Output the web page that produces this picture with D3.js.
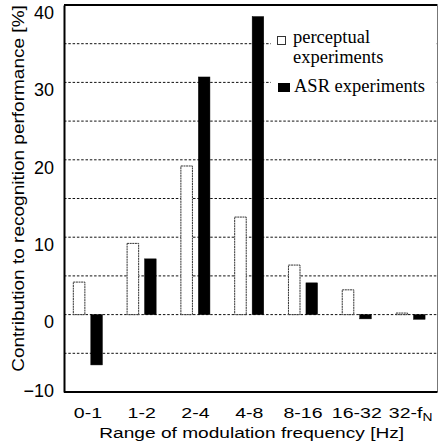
<!DOCTYPE html>
<html>
<head>
<meta charset="utf-8">
<script src="https://cdn.jsdelivr.net/npm/d3@7"></script>
<style>
  html, body { margin: 0; padding: 0; background: #fff; }
  svg { display: block; }
  .sans { font-family: "Liberation Sans", Arial, sans-serif; }
  .serif { font-family: "Liberation Serif", "Times New Roman", serif; }
</style>
</head>
<body>
<svg id="chart" width="440" height="448"></svg>
<script>
// Modulation frequency bands (Hz)
const categories = ["0-1", "1-2", "2-4", "4-8", "8-16", "16-32", "32-fN"];
// Contribution to recognition performance [%]
const perceptual = [4.2, 9.2, 19.2, 12.6, 6.4, 3.2, 0.2];
const asr = [-6.5, 7.2, 30.7, 38.5, 4.1, -0.55, -0.6];
const yTicks = [-10, 0, 10, 20, 30, 40];
const gridValues = [-5, 0, 5, 10, 15, 20, 25, 30, 35];
const seriesNames = ["perceptual", "asr"];

const svg = d3.select("#chart");
const frame = { left: 64, right: 437.5, top: 5, bottom: 392 };

const y = d3.scaleLinear().domain([-10, 40]).range([frame.bottom, frame.top]);
const x = d3.scaleBand().domain(categories).range([61, 437.5]).paddingInner(0);
const x1 = d3.scaleBand().domain(seriesNames)
  .range([x.bandwidth() * 0.229, x.bandwidth() * 0.769]).paddingInner(0.34);

// the lettering is set wide: factor that stretches a text to a given length
function stretchTo(textSel, length) {
  const natural = textSel.node().getComputedTextLength();
  return length / natural;
}

// dotted reference lines
svg.append("g").selectAll("line").data(gridValues).join("line")
  .attr("x1", frame.left).attr("x2", frame.right)
  .attr("y1", d => y(d)).attr("y2", d => y(d))
  .attr("stroke", "#111").attr("stroke-width", 1)
  .attr("stroke-dasharray", "2.5,1.8");

// legend backdrop hides the grid under the labels
svg.append("rect").attr("x", 271).attr("y", 26).attr("width", 165).attr("height", 76)
  .attr("fill", "#fff");

const rows = categories.map((c, i) => ({ c, values: [perceptual[i], asr[i]] }));
const groups = svg.append("g").selectAll("g").data(rows).join("g")
  .attr("transform", d => `translate(${x(d.c)},0)`);

groups.selectAll("rect").data(d => d.values.map((v, j) => ({ s: seriesNames[j], v })))
  .join("rect")
  .attr("x", d => x1(d.s))
  .attr("width", x1.bandwidth())
  .attr("y", d => Math.min(y(d.v), y(0)))
  .attr("height", d => Math.abs(y(d.v) - y(0)))
  .attr("fill", d => d.s === "asr" ? "#000" : "#fff")
  .attr("stroke", d => d.s === "asr" ? "#000" : "#333")
  .attr("stroke-width", d => d.s === "asr" ? 0.5 : 1)
  .attr("stroke-dasharray", d => d.s === "asr" ? null : "2,0.6");

// frame
svg.append("line").attr("x1", frame.left).attr("x2", frame.right)
  .attr("y1", frame.top).attr("y2", frame.top).attr("stroke", "#000").attr("stroke-width", 2.2);
svg.append("line").attr("x1", frame.right).attr("x2", frame.right)
  .attr("y1", frame.top).attr("y2", frame.bottom).attr("stroke", "#777").attr("stroke-width", 1);

// y axis: labels hang just below their value
const yAxis = d3.axisLeft(y).tickValues(yTicks).tickSize(0).tickPadding(10);
const gy = svg.append("g").attr("transform", `translate(${frame.left},0)`).call(yAxis);
gy.select(".domain").attr("stroke", "#000").attr("stroke-width", 2);
gy.selectAll(".tick text").attr("class", "sans").attr("font-size", 18).attr("fill", "#000")
  .attr("dy", d => d === -10 ? "0.26em" : "0.74em");

// x axis
const xAxis = d3.axisBottom(x).tickSize(0).tickFormat(() => "");
const gx = svg.append("g").attr("transform", `translate(0,${frame.bottom})`).call(xAxis);
gx.select(".domain").attr("d", `M${frame.left},0H${frame.right}`)
  .attr("stroke", "#000").attr("stroke-width", 2);
gx.selectAll(".tick text").each(function(d) {
  const t = d3.select(this).attr("class", "sans").attr("font-size", 15.5).attr("fill", "#000")
    .attr("y", 25.7).attr("dy", 0).attr("transform", "scale(1.26,1)");
  if (d === "32-fN") {
    t.append("tspan").text("32-f");
    t.append("tspan").text("N").attr("font-size", 11).attr("dy", "0.3em");
  } else {
    t.text(d);
  }
});

// axis titles
const xTitleG = svg.append("g");
const xTitle = xTitleG.append("text").attr("class", "sans")
  .attr("text-anchor", "middle").attr("font-size", 15.5)
  .text("Range of modulation frequency [Hz]");
xTitleG.attr("transform", `translate(251.7,438.3) scale(${stretchTo(xTitle, 305)},1)`);

const yTitleG = svg.append("g");
const yTitle = yTitleG.append("text").attr("class", "sans")
  .attr("text-anchor", "middle").attr("font-size", 16)
  .text("Contribution to recognition performance [%]");
yTitleG.attr("transform", `translate(24,188.5) rotate(-90) scale(${stretchTo(yTitle, 367)},1)`);

// legend
svg.append("rect").attr("x", 277.5).attr("y", 36.5).attr("width", 8).attr("height", 8)
  .attr("fill", "#fff").attr("stroke", "#333").attr("stroke-width", 1);
svg.append("rect").attr("x", 278).attr("y", 83).attr("width", 12).attr("height", 9)
  .attr("fill", "#000");
const legendText = svg.append("g").attr("class", "serif").attr("font-size", 18.5).attr("fill", "#000");
legendText.append("text").attr("x", 293).attr("y", 43).text("perceptual");
legendText.append("text").attr("x", 293).attr("y", 63).text("experiments");
legendText.append("text").attr("x", 294).attr("y", 92).text("ASR experiments");
</script>
</body>
</html>
